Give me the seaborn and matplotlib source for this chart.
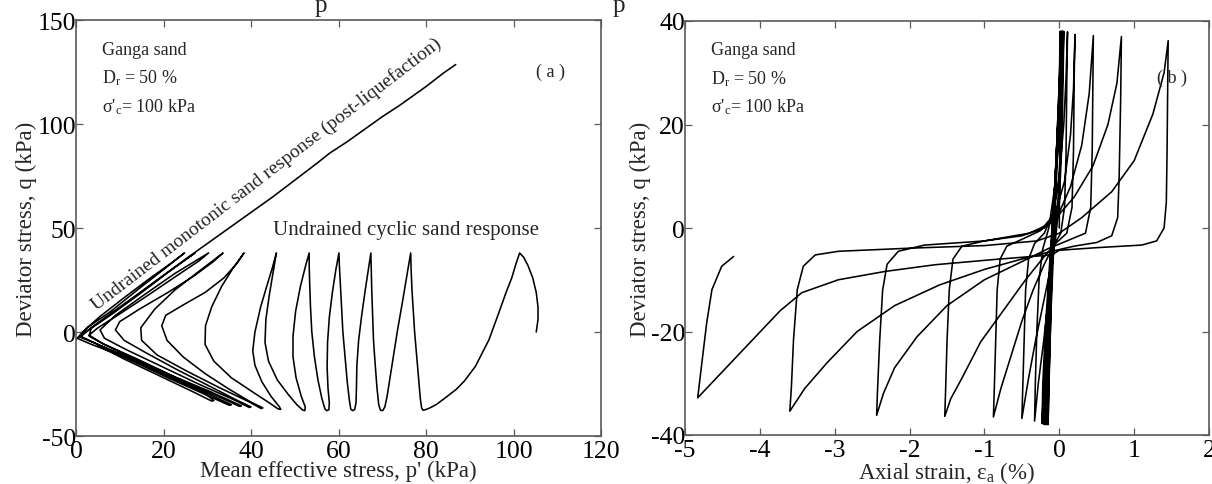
import matplotlib
matplotlib.use("Agg")
import matplotlib.pyplot as plt
import pandas as pd
import seaborn as sns

# ---- (a) effective stress path: mean effective stress p' (kPa) vs deviator stress q (kPa)
p_path = [105.2, 105.6, 105.6, 105.2, 104.4, 103.3, 102.3, 101.4,
          100.6, 99.6, 98.3, 96.6, 94.4, 91.3, 88.8, 86.9, 84.5, 82.4, 80.8, 79.8, 79.3,
          79.0, 78.7, 78.3, 77.8, 77.4, 77.1, 76.8, 76.6, 76.5,
          76.1, 75.4, 74.5, 73.5, 72.6, 71.8, 71.1, 70.6, 70.1, 69.6,
          69.2, 68.8, 68.4, 68.0, 67.8, 67.6, 67.5, 67.4,
          66.9, 66.1, 65.3, 64.6, 64.2, 64.1, 64.0, 63.7, 63.2, 62.8,
          62.5, 62.0, 61.5, 61.0, 60.7, 60.4, 60.2, 60.1,
          59.4, 58.6, 57.9, 57.5, 57.4, 57.6, 57.9, 57.8, 57.3, 56.9,
          56.2, 55.3, 54.5, 53.9, 53.6, 53.4, 53.3, 53.3,
          52.5, 51.3, 50.2, 49.6, 49.6, 50.3, 51.5, 52.4, 52.3, 51.8,
          50.5, 48.5, 46.0, 44.0, 43.2, 43.4, 44.2, 45.0, 45.8,
          44.9, 43.6, 42.2, 40.9, 40.4, 40.9, 42.5, 44.6, 46.5, 46.8, 46.2,
          44.5, 40.5, 35.5, 31.5, 29.5, 29.6, 31.0, 33.3, 36.0, 38.4,
          36.8, 33.8, 29.5, 24.5, 20.5, 19.6, 20.8, 24.5, 29.5, 35.0, 39.8, 42.7, 42.3,
          39.5, 33.0, 25.5, 18.5, 15.0, 14.8, 18.0, 22.5, 28.0, 33.6,
          31.5, 27.0, 21.0, 14.5, 10.0, 9.0, 11.0, 16.0, 23.0, 30.5, 36.5, 40.0, 39.6,
          36.0, 28.0, 19.5, 11.5, 6.5, 5.5, 9.0, 15.0, 22.5, 30.3,
          28.0, 23.0, 16.0, 9.5, 5.0, 3.0, 6.0, 14.0, 22.5, 30.5, 37.8, 37.3,
          33.0, 24.0, 14.5, 6.5, 3.0, 3.5, 8.5, 15.5, 21.5, 27.2,
          24.5, 19.5, 13.0, 7.0, 2.5, 1.0, 4.5, 13.0, 22.5, 30.0, 35.5, 35.0,
          30.0, 21.0, 11.5, 4.0, 1.0, 2.5, 8.0, 14.5, 20.0, 24.8,
          22.0, 17.0, 11.0, 5.5, 1.5, 0.3, 3.0, 11.0, 19.0, 25.5, 29.5, 31.5, 31.0,
          27.0, 19.0, 11.0, 5.0]
q_path = [0.0, 6.0, 12.0, 19.0, 26.0, 32.0, 36.0, 38.0,
          33.0, 26.0, 19.0, 9.0, -3.7, -16.5, -23.5, -27.6, -31.5, -34.8, -36.6, -37.4, -37.6,
          -36.5, -32.0, -22.0, -10.0, 0.0, 10.0, 20.0, 30.0, 38.0,
          33.0, 24.0, 13.0, 1.0, -11.0, -22.0, -31.0, -36.0, -37.8, -37.6,
          -35.0, -27.0, -16.0, -4.0, 8.0, 20.0, 30.0, 38.0,
          31.0, 20.0, 8.0, -4.0, -16.0, -27.0, -34.0, -37.3, -37.8, -37.0,
          -33.0, -24.0, -12.0, 0.0, 12.0, 24.0, 32.0, 38.0,
          30.0, 19.0, 7.0, -5.0, -17.0, -27.0, -34.0, -37.4, -37.8, -37.0,
          -32.0, -23.0, -12.0, 0.0, 12.0, 24.0, 32.0, 38.0,
          32.0, 22.0, 10.0, -2.0, -12.0, -22.0, -31.0, -36.0, -37.8, -37.5,
          -35.0, -30.0, -23.0, -14.0, -5.0, 6.0, 18.0, 28.0, 38.0,
          31.0, 22.0, 12.0, 0.0, -9.0, -16.0, -24.0, -31.0, -36.0, -37.2, -37.0,
          -34.5, -29.0, -22.0, -14.0, -6.0, 3.0, 12.0, 22.0, 31.0, 38.0,
          33.0, 26.0, 19.0, 13.0, 8.0, 3.0, -4.0, -12.0, -20.0, -27.5, -33.5, -36.5, -36.8,
          -33.5, -27.0, -19.0, -11.0, -4.0, 2.0, 11.0, 20.0, 29.0, 38.0,
          34.0, 27.0, 19.0, 11.0, 5.0, 1.0, -4.0, -10.0, -18.0, -26.0, -32.5, -36.0, -36.3,
          -32.5, -25.0, -16.5, -8.5, -3.0, 1.0, 8.0, 17.0, 28.0, 38.0,
          34.0, 27.0, 17.0, 8.0, 2.0, -1.5, -5.5, -13.0, -21.5, -28.5, -35.5, -35.7,
          -31.5, -23.0, -14.0, -6.0, -2.0, 2.0, 9.0, 20.0, 29.5, 38.0,
          34.0, 26.5, 16.5, 7.5, 0.5, -2.5, -5.5, -13.0, -22.0, -29.5, -35.0, -35.2,
          -30.5, -22.0, -12.5, -5.0, -2.0, 2.0, 10.0, 21.0, 30.0, 38.0,
          33.5, 26.0, 16.5, 7.5, 0.0, -3.0, -5.5, -12.0, -19.5, -25.5, -29.5, -33.0, -33.2,
          -29.0, -21.0, -13.0, -6.5]

# ---- (a) monotonic (post-liquefaction) response
mono_p = [0, 5, 10, 15, 20, 25, 30, 35, 40, 45, 50, 55, 58, 62, 66, 70, 74, 77, 80, 84, 86.8]
mono_q = [-3.5, 4, 11.5, 19, 27, 35, 42.5, 50, 57.5, 65, 73, 81, 86, 91.5, 97.5, 103.5,
          109, 113.5, 118, 124.5, 128.6]

# ---- (b) axial strain (%) vs deviator stress q (kPa)
strain_path = [0.0, 0.005, 0.01, 0.012,
               0.0, -0.04, -0.08, -0.11, -0.13, -0.15,
               -0.14, -0.11, -0.07, -0.03, 0.0, 0.02,
               0.0, -0.04, -0.08, -0.12, -0.15, -0.17,
               -0.16, -0.12, -0.08, -0.04, 0.0, 0.03,
               0.01, -0.04, -0.09, -0.13, -0.17, -0.19,
               -0.18, -0.14, -0.09, -0.04, 0.0, 0.035,
               0.01, -0.04, -0.09, -0.14, -0.18, -0.21,
               -0.20, -0.16, -0.11, -0.05, 0.0, 0.04,
               0.02, -0.03, -0.09, -0.15, -0.20, -0.23,
               -0.22, -0.18, -0.12, -0.06, 0.0, 0.03, 0.05,
               0.04, 0.02, -0.02, -0.07, -0.14, -0.21, -0.28, -0.33,
               -0.32, -0.30, -0.27, -0.22, -0.14, -0.06, 0.0, 0.04, 0.06,
               0.05, 0.03, 0.0, -0.05, -0.12, -0.22, -0.32, -0.41, -0.5,
               -0.49, -0.47, -0.45, -0.41, -0.33, -0.2, -0.08, 0.0, 0.06, 0.09, 0.11,
               0.10, 0.09, 0.07, 0.02, -0.08, -0.2, -0.35, -0.5, -0.65, -0.78, -0.88,
               -0.87, -0.85, -0.83, -0.79, -0.7, -0.5, -0.25, -0.05, 0.07, 0.15, 0.19, 0.21,
               0.20, 0.19, 0.17, 0.1, -0.05, -0.2, -0.45, -0.75, -1.05, -1.3, -1.45, -1.53,
               -1.52, -1.50, -1.47, -1.42, -1.3, -1.0, -0.5, -0.2, 0.0, 0.15, 0.3, 0.4, 0.455,
               0.45, 0.44, 0.42, 0.35, 0.1, -0.15, -0.5, -1.0, -1.5, -1.9, -2.2, -2.35, -2.44,
               -2.43, -2.40, -2.36, -2.30, -2.15, -1.8, -1.0, -0.4, -0.1, 0.2, 0.45, 0.65, 0.77, 0.83,
               0.82, 0.80, 0.78, 0.7, 0.5, 0.2, -0.1, -0.5, -1.0, -1.6, -2.2, -2.7, -3.1, -3.4, -3.6,
               -3.58, -3.55, -3.50, -3.42, -3.26, -2.95, -2.0, -1.0, -0.3, 0.0, 0.3, 0.7, 1.0, 1.25, 1.4, 1.455,
               1.45, 1.44, 1.43, 1.40, 1.3, 1.1, 0.5, 0.0, -0.1, -0.88, -1.66, -2.33, -2.95, -3.44, -3.73,
               -4.09, -4.51, -4.83,
               -4.79, -4.71, -4.64, -4.51, -4.35]
qb_path = [0.0, 12.0, 25.0, 38.0,
           28.0, 14.0, 0.0, -14.0, -26.0, -38.0,
           -30.0, -16.0, -2.0, 12.0, 26.0, 38.0,
           28.0, 14.0, 0.0, -14.0, -26.0, -38.0,
           -30.0, -16.0, -2.0, 12.0, 26.0, 38.0,
           28.0, 14.0, 0.0, -14.0, -26.0, -38.0,
           -30.0, -16.0, -2.0, 12.0, 26.0, 38.0,
           28.0, 14.0, 0.0, -14.0, -26.0, -37.9,
           -30.0, -17.0, -4.0, 10.0, 24.0, 38.0,
           28.0, 15.0, 0.0, -14.0, -27.0, -37.8,
           -30.0, -18.0, -5.0, 8.0, 22.0, 31.0, 38.0,
           28.0, 16.0, 5.0, -4.0, -13.0, -22.0, -30.0, -37.3,
           -30.0, -20.0, -10.0, -4.0, 0.0, 8.0, 18.0, 28.0, 38.0,
           28.0, 15.0, 5.0, -2.0, -8.0, -15.0, -22.0, -29.0, -36.8,
           -32.0, -22.0, -12.0, -6.0, -3.0, -1.0, 3.0, 10.0, 20.0, 29.0, 37.9,
           28.0, 14.0, 4.0, -1.0, -3.5, -7.0, -12.0, -18.0, -25.0, -31.0, -36.5,
           -32.0, -22.0, -12.0, -6.0, -3.5, -2.2, -0.5, 3.0, 9.0, 18.0, 27.0, 37.4,
           30.0, 15.0, 4.0, -1.0, -3.0, -5.5, -10.0, -16.0, -22.0, -29.0, -33.0, -36.4,
           -32.0, -22.0, -12.0, -6.0, -3.5, -2.5, -1.5, 0.0, 3.0, 8.0, 16.0, 26.0, 37.2,
           30.0, 15.0, 4.0, -1.0, -2.5, -4.0, -6.5, -10.0, -15.0, -21.0, -27.0, -32.0, -36.2,
           -32.0, -22.0, -12.0, -7.0, -4.5, -3.3, -2.5, -1.0, 1.0, 6.0, 12.0, 20.0, 28.0, 37.0,
           25.0, 10.0, 2.0, -1.5, -2.8, -3.5, -4.5, -6.0, -8.0, -11.0, -15.0, -20.0, -26.0, -31.0, -35.4,
           -31.1, -21.5, -11.9, -7.4, -5.2, -4.5, -3.9, -3.4, -2.5, -1.0, 2.0, 7.0, 13.0, 22.0, 30.0, 36.2,
           30.0, 15.0, 5.0, 0.0, -2.5, -3.3, -3.8, -4.3, -5.2, -6.1, -7.1, -8.4, -10.0, -12.5, -16.0,
           -21.5, -27.9, -32.8,
           -27.9, -18.3, -11.9, -7.4, -5.5]

p_ticks = [0, 20, 40, 60, 80, 100, 120]
qa_ticks = [-50, 0, 50, 100, 150]
strain_ticks = [-5, -4, -3, -2, -1, 0, 1, 2]
qb_ticks = [-40, -20, 0, 20, 40]

sns.set_theme(style="ticks")
plt.rcParams["font.family"] = ["Liberation Serif", "DejaVu Serif"]
plt.rcParams["mathtext.fontset"] = "custom"
plt.rcParams["mathtext.rm"] = "Liberation Serif"
plt.rcParams["mathtext.it"] = "Liberation Serif:italic"
plt.rcParams["axes.unicode_minus"] = False

W, H = 1212, 485
fig = plt.figure(figsize=(W / 100, H / 100), dpi=100)
ax_a = fig.add_axes([76 / W, 1 - 437 / H, (601 - 76) / W, (437 - 21) / H])
ax_b = fig.add_axes([685 / W, 1 - 436 / H, (1209 - 685) / W, (436 - 22) / H])

line_kw = dict(color="black", lw=1.15, sort=False, estimator=None, legend=False)

df_a = pd.DataFrame({"p": p_path, "q": q_path})
df_m = pd.DataFrame({"p": mono_p, "q": mono_q})
sns.lineplot(data=df_a, x="p", y="q", ax=ax_a, **line_kw)
sns.lineplot(data=df_m, x="p", y="q", ax=ax_a, **line_kw)

df_b = pd.DataFrame({"e": strain_path, "q": qb_path})
sns.lineplot(data=df_b, x="e", y="q", ax=ax_b, **line_kw)

spine_col = "#5a5a5a"
for ax in (ax_a, ax_b):
    for s in ax.spines.values():
        s.set_color(spine_col)
        s.set_linewidth(1.2)
    ax.tick_params(direction="in", top=True, right=True, length=5, width=0.9,
                   color=spine_col, labelsize=18.5, labelcolor="black")
    ax.tick_params(axis="x", pad=3)
    ax.tick_params(axis="y", pad=0)
    ax.set_ylabel("Deviator stress, q (kPa)", fontsize=16.5, labelpad=0)

ax_a.set_xlim(0, 120)
ax_a.set_ylim(-50, 150)
ax_a.set_xticks(p_ticks)
ax_a.set_yticks(qa_ticks)
ax_a.set_xlabel("Mean effective stress, p' (kPa)", fontsize=16.5, labelpad=-1.5)

ax_b.set_xlim(-5, 2)
ax_b.set_ylim(-40, 40)
ax_b.set_xticks(strain_ticks)
ax_b.set_yticks(qb_ticks)
ax_b.set_xlabel(r"Axial strain, ε$_\mathrm{a}$ (%)", fontsize=16.5, labelpad=-1.5)

info = ["Ganga sand", r"D$_\mathrm{r}$ = 50 %", r"σ'$_\mathrm{c}$= 100 kPa"]
for ax in (ax_a, ax_b):
    for i, t in enumerate(info):
        ax.text(0.05, 0.93 - i * 0.068, t, transform=ax.transAxes, fontsize=13,
                ha="left", va="center")

ax_a.text(0.903, 0.877, "( a )", transform=ax_a.transAxes, fontsize=13, ha="center", va="center")
ax_b.text(0.93, 0.865, "( b )", transform=ax_b.transAxes, fontsize=13, ha="center", va="center")

ax_a.text(43.5, 76.5, "Undrained monotonic sand response (post-liquefaction)", fontsize=14,
          rotation=37.5, ha="center", va="center", rotation_mode="anchor")
ax_a.text(75.5, 49.5, "Undrained cyclic sand response", fontsize=15, ha="center", va="center")

# descenders of the caption line just above the figure
fig.text(321 / W, 1 - 12 / H, "p", fontsize=18, ha="center", va="baseline")
fig.text(619 / W, 1 - 12 / H, "p", fontsize=18, ha="center", va="baseline")

fig.savefig("out.png", dpi=100)
